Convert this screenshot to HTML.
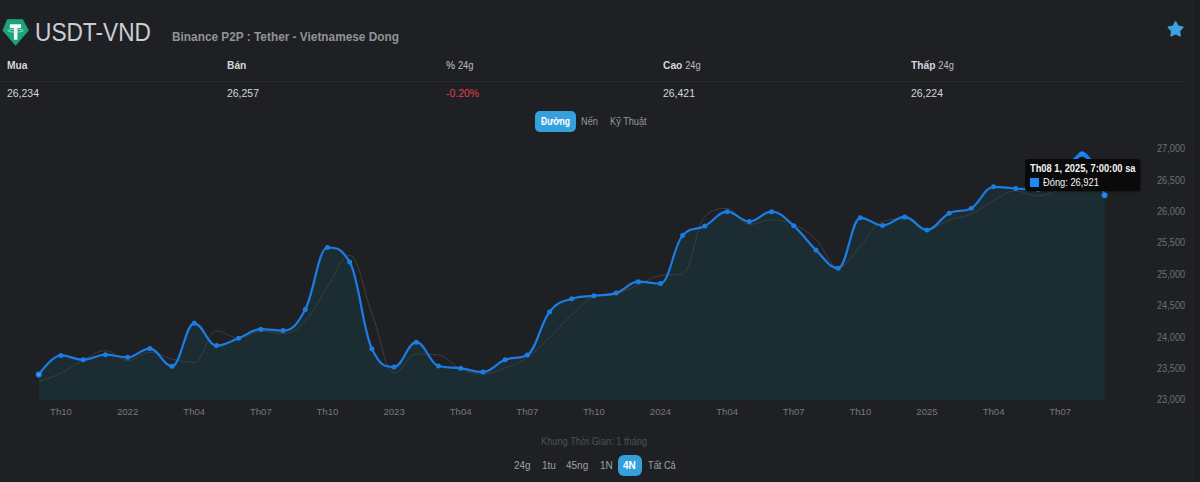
<!DOCTYPE html>
<html><head><meta charset="utf-8">
<style>
html,body{margin:0;padding:0;width:1200px;height:482px;overflow:hidden;background:#1f2024;}
body{position:relative;font-family:"Liberation Sans",sans-serif;}
.a{position:absolute;white-space:nowrap;line-height:1;}
#title{left:35px;top:20px;font-size:25px;color:#caced3;transform-origin:0 0;transform:scaleX(0.907);}
#sub{left:172px;top:30.5px;font-size:12.5px;font-weight:bold;color:#909398;transform-origin:0 0;transform:scaleX(0.947);}
.lab{font-size:11px;font-weight:bold;color:#d5d7dc;top:60px;transform-origin:0 0;transform:scaleX(0.93);}
.lab span{font-weight:normal;font-size:10px;color:#b8bbc1;}
.val{font-size:11px;color:#d5d7dc;top:88px;transform-origin:0 0;transform:scaleX(0.95);}
#sep{left:0;top:81px;width:1185px;height:1px;background:#27292d;}
.btn{font-size:10px;color:#94979d;top:117px;}
#bact{left:535px;top:111px;width:41px;height:21px;border-radius:5px;background:#36a0dc;}
.ax{font-size:9.6px;color:#75787d;}
.ay{font-size:10px;color:#6c6f75;margin-left:1px;transform-origin:0 0;transform:scaleX(0.92);}
#khung{left:541px;top:436.5px;font-size:10px;color:#4d5055;transform-origin:0 0;transform:scaleX(0.925);}
.tb{font-size:10.5px;color:#9ea1a7;top:460px;transform-origin:0 0;transform:scaleX(0.95);}
#tact{left:618px;top:455px;width:24px;height:21px;border-radius:6px;background:#36a0dc;}
#tip{left:1025px;top:158.8px;width:115px;height:32px;border-radius:3px;background:#0a0a0b;box-shadow:1px 1px 2px rgba(0,0,0,0.4);}
#rstrip{left:1194px;top:0;width:6px;height:482px;background:#1c1d20;}
</style></head><body>
<div id="rstrip" class="a"></div>
<svg class="a" style="left:0;top:0" width="32" height="50" viewBox="0 0 32 50">
<path d="M7.4,19.6 L22.6,19.6 L28.4,30.4 L15.6,45.3 L2.9,30.4 Z" fill="#1ba37a" stroke="#1ba37a" stroke-width="0.8" stroke-linejoin="round"/>
<path d="M9.8,24.3 H21 V27.9 H17.5 V39.8 H13.9 V27.9 H9.8 Z" fill="#f2f7f5"/>
<ellipse cx="15.6" cy="30.6" rx="7.6" ry="1.5" fill="none" stroke="#bfe6d6" stroke-width="0.8"/>
</svg>
<div id="title" class="a">USDT-VND</div>
<div id="sub" class="a">Binance P2P : Tether - Vietnamese Dong</div>
<svg class="a" style="left:1166px;top:19px" width="19" height="19" viewBox="0 0 19 19">
<path d="M9.60,3.00 L11.95,7.36 L16.83,8.25 L13.40,11.84 L14.07,16.75 L9.60,14.60 L5.13,16.75 L5.80,11.84 L2.37,8.25 L7.25,7.36 Z" fill="#3ca2e0" stroke="#3ca2e0" stroke-width="1.6" stroke-linejoin="round"/>
</svg>
<div id="sep" class="a"></div>
<div class="a lab" style="left:7px">Mua</div>
<div class="a lab" style="left:227px">Bán</div>
<div class="a lab" style="left:446px;font-weight:normal;color:#c9ccd1">% <span>24g</span></div>
<div class="a lab" style="left:663px">Cao <span>24g</span></div>
<div class="a lab" style="left:911px">Thấp <span>24g</span></div>
<div class="a val" style="left:7px">26,234</div>
<div class="a val" style="left:227px">26,257</div>
<div class="a val" style="left:446px;color:#e33d4d">-0.20%</div>
<div class="a val" style="left:663px">26,421</div>
<div class="a val" style="left:911px">26,224</div>
<div id="bact" class="a"></div>
<div class="a btn" style="left:541px;color:#fff;font-weight:bold;transform-origin:0 0;transform:scaleX(0.86)">Đường</div>
<div class="a btn" style="left:581px;transform-origin:0 0;transform:scaleX(0.92)">Nến</div>
<div class="a btn" style="left:610px;transform-origin:0 0;transform:scaleX(0.92)">Kỹ Thuật</div>

<svg class="a" style="left:0;top:0" width="1200" height="482" viewBox="0 0 1200 482">
<path d="M38.80,374.60 C38.80,374.60 52.12,355.40 61.00,355.40 C69.89,355.40 74.33,359.80 83.21,359.80 C92.09,359.80 96.53,354.70 105.41,354.70 C114.29,354.70 118.73,357.30 127.62,357.30 C136.50,357.30 140.94,348.60 149.82,348.60 C158.70,348.60 163.14,366.20 172.02,366.20 C180.91,366.20 185.35,323.30 194.23,323.30 C203.11,323.30 207.55,345.60 216.43,345.60 C225.31,345.60 229.76,341.48 238.64,338.20 C247.52,334.92 251.96,329.20 260.84,329.20 C269.72,329.20 274.16,330.60 283.05,330.60 C291.93,330.60 296.37,326.02 305.25,309.40 C314.13,292.78 318.57,247.50 327.45,247.50 C336.34,247.50 340.78,247.50 349.66,261.90 C358.54,276.30 362.98,330.50 371.86,348.70 C380.74,366.90 385.19,366.90 394.07,366.90 C402.95,366.90 407.39,342.20 416.27,342.20 C425.15,342.20 429.59,363.80 438.47,366.00 C447.36,368.20 451.80,367.00 460.68,368.20 C469.56,369.40 474.00,372.00 482.88,372.00 C491.76,372.00 496.21,363.20 505.09,359.80 C513.97,356.40 518.41,359.80 527.29,355.00 C536.17,350.20 540.61,323.24 549.50,312.00 C558.38,300.76 562.82,301.80 571.70,298.80 C580.58,295.80 585.02,296.94 593.90,295.80 C602.79,294.66 607.23,295.80 616.11,293.10 C624.99,290.40 629.43,281.70 638.31,281.70 C647.19,281.70 651.63,283.50 660.52,283.50 C669.40,283.50 673.84,244.40 682.72,235.20 C691.60,226.00 696.04,230.70 704.92,226.00 C713.81,221.30 718.25,211.70 727.13,211.70 C736.01,211.70 740.45,221.50 749.33,221.50 C758.21,221.50 762.66,211.70 771.54,211.70 C780.42,211.70 784.86,218.14 793.74,225.80 C802.62,233.46 807.06,241.50 815.95,250.00 C824.83,258.50 829.27,268.30 838.15,268.30 C847.03,268.30 851.47,217.80 860.35,217.80 C869.24,217.80 873.68,225.40 882.56,225.40 C891.44,225.40 895.88,216.90 904.76,216.90 C913.64,216.90 918.08,229.90 926.97,229.90 C935.85,229.90 940.29,217.54 949.17,213.20 C958.05,208.86 962.49,213.20 971.37,208.20 C980.26,203.20 984.70,186.80 993.58,186.80 C1002.46,186.80 1006.90,187.96 1015.78,188.50 C1024.66,189.04 1029.11,189.50 1037.99,189.50 C1046.87,189.50 1051.31,189.50 1060.19,186.00 C1069.07,182.50 1073.51,152.50 1082.40,152.50 C1091.28,152.50 1104.60,195.20 1104.60,195.20 L1104.60,400 L38.80,400 Z" fill="#1b2d32"/>
<path d="M38.80,381.50 C38.80,381.50 52.12,377.50 61.00,373.20 C69.89,368.90 74.33,364.50 83.21,360.00 C92.09,355.50 96.53,350.70 105.41,350.70 C114.29,350.70 118.73,360.50 127.62,360.50 C136.50,360.50 140.94,352.40 149.82,352.40 C158.70,352.40 163.14,357.02 172.02,359.00 C180.91,360.98 185.35,362.30 194.23,362.30 C203.11,362.30 207.55,331.00 216.43,331.00 C225.31,331.00 229.76,338.00 238.64,338.00 C247.52,338.00 251.96,331.30 260.84,331.30 C269.72,331.30 274.16,333.60 283.05,333.60 C291.93,333.60 296.37,330.32 305.25,321.00 C314.13,311.68 318.57,300.10 327.45,287.00 C336.34,273.90 340.78,255.50 349.66,255.50 C358.54,255.50 362.98,289.50 371.86,313.00 C380.74,336.50 385.19,373.00 394.07,373.00 C402.95,373.00 407.39,354.00 416.27,354.00 C425.15,354.00 429.59,354.00 438.47,355.00 C447.36,356.00 451.80,365.20 460.68,369.00 C469.56,372.80 474.00,374.00 482.88,374.00 C491.76,374.00 496.21,371.30 505.09,368.00 C513.97,364.70 518.41,363.58 527.29,357.50 C536.17,351.42 540.61,346.10 549.50,337.60 C558.38,329.10 562.82,323.12 571.70,315.00 C580.58,306.88 585.02,300.00 593.90,297.00 C602.79,294.00 607.23,296.40 616.11,294.00 C624.99,291.60 629.43,288.70 638.31,285.00 C647.19,281.30 651.63,277.20 660.52,275.50 C669.40,273.80 673.84,275.50 682.72,273.80 C691.60,272.10 696.04,224.50 704.92,216.50 C713.81,208.50 718.25,208.50 727.13,208.50 C736.01,208.50 740.45,224.50 749.33,224.50 C758.21,224.50 762.66,220.00 771.54,220.00 C780.42,220.00 784.86,220.60 793.74,224.50 C802.62,228.40 807.06,230.90 815.95,239.50 C824.83,248.10 829.27,267.50 838.15,267.50 C847.03,267.50 851.47,255.20 860.35,246.00 C869.24,236.80 873.68,224.00 882.56,221.50 C891.44,219.00 895.88,219.00 904.76,219.00 C913.64,219.00 918.08,229.50 926.97,229.50 C935.85,229.50 940.29,223.10 949.17,220.00 C958.05,216.90 962.49,217.90 971.37,214.00 C980.26,210.10 984.70,205.10 993.58,200.50 C1002.46,195.90 1006.90,191.00 1015.78,191.00 C1024.66,191.00 1029.11,196.00 1037.99,196.00 C1046.87,196.00 1051.31,192.00 1060.19,190.00 C1069.07,188.00 1073.51,186.00 1082.40,186.00 C1091.28,186.00 1104.60,186.00 1104.60,186.00" fill="none" stroke="#3b3e42" stroke-width="1"/>
<path d="M38.80,374.60 C38.80,374.60 52.12,355.40 61.00,355.40 C69.89,355.40 74.33,359.80 83.21,359.80 C92.09,359.80 96.53,354.70 105.41,354.70 C114.29,354.70 118.73,357.30 127.62,357.30 C136.50,357.30 140.94,348.60 149.82,348.60 C158.70,348.60 163.14,366.20 172.02,366.20 C180.91,366.20 185.35,323.30 194.23,323.30 C203.11,323.30 207.55,345.60 216.43,345.60 C225.31,345.60 229.76,341.48 238.64,338.20 C247.52,334.92 251.96,329.20 260.84,329.20 C269.72,329.20 274.16,330.60 283.05,330.60 C291.93,330.60 296.37,326.02 305.25,309.40 C314.13,292.78 318.57,247.50 327.45,247.50 C336.34,247.50 340.78,247.50 349.66,261.90 C358.54,276.30 362.98,330.50 371.86,348.70 C380.74,366.90 385.19,366.90 394.07,366.90 C402.95,366.90 407.39,342.20 416.27,342.20 C425.15,342.20 429.59,363.80 438.47,366.00 C447.36,368.20 451.80,367.00 460.68,368.20 C469.56,369.40 474.00,372.00 482.88,372.00 C491.76,372.00 496.21,363.20 505.09,359.80 C513.97,356.40 518.41,359.80 527.29,355.00 C536.17,350.20 540.61,323.24 549.50,312.00 C558.38,300.76 562.82,301.80 571.70,298.80 C580.58,295.80 585.02,296.94 593.90,295.80 C602.79,294.66 607.23,295.80 616.11,293.10 C624.99,290.40 629.43,281.70 638.31,281.70 C647.19,281.70 651.63,283.50 660.52,283.50 C669.40,283.50 673.84,244.40 682.72,235.20 C691.60,226.00 696.04,230.70 704.92,226.00 C713.81,221.30 718.25,211.70 727.13,211.70 C736.01,211.70 740.45,221.50 749.33,221.50 C758.21,221.50 762.66,211.70 771.54,211.70 C780.42,211.70 784.86,218.14 793.74,225.80 C802.62,233.46 807.06,241.50 815.95,250.00 C824.83,258.50 829.27,268.30 838.15,268.30 C847.03,268.30 851.47,217.80 860.35,217.80 C869.24,217.80 873.68,225.40 882.56,225.40 C891.44,225.40 895.88,216.90 904.76,216.90 C913.64,216.90 918.08,229.90 926.97,229.90 C935.85,229.90 940.29,217.54 949.17,213.20 C958.05,208.86 962.49,213.20 971.37,208.20 C980.26,203.20 984.70,186.80 993.58,186.80 C1002.46,186.80 1006.90,187.96 1015.78,188.50 C1024.66,189.04 1029.11,189.50 1037.99,189.50 C1046.87,189.50 1051.31,189.50 1060.19,186.00 C1069.07,182.50 1073.51,152.50 1082.40,152.50 C1091.28,152.50 1104.60,195.20 1104.60,195.20" fill="none" stroke="#1b7de4" stroke-width="2.2" stroke-linejoin="round"/>
<g fill="#1b7de4"><circle cx="61.00" cy="355.40" r="2.5"/><circle cx="83.21" cy="359.80" r="2.5"/><circle cx="105.41" cy="354.70" r="2.5"/><circle cx="127.62" cy="357.30" r="2.5"/><circle cx="149.82" cy="348.60" r="2.5"/><circle cx="172.02" cy="366.20" r="2.5"/><circle cx="194.23" cy="323.30" r="2.5"/><circle cx="216.43" cy="345.60" r="2.5"/><circle cx="238.64" cy="338.20" r="2.5"/><circle cx="260.84" cy="329.20" r="2.5"/><circle cx="283.05" cy="330.60" r="2.5"/><circle cx="305.25" cy="309.40" r="2.5"/><circle cx="327.45" cy="247.50" r="2.5"/><circle cx="349.66" cy="261.90" r="2.5"/><circle cx="371.86" cy="348.70" r="2.5"/><circle cx="394.07" cy="366.90" r="2.5"/><circle cx="416.27" cy="342.20" r="2.5"/><circle cx="438.47" cy="366.00" r="2.5"/><circle cx="460.68" cy="368.20" r="2.5"/><circle cx="482.88" cy="372.00" r="2.5"/><circle cx="505.09" cy="359.80" r="2.5"/><circle cx="527.29" cy="355.00" r="2.5"/><circle cx="549.50" cy="312.00" r="2.5"/><circle cx="571.70" cy="298.80" r="2.5"/><circle cx="593.90" cy="295.80" r="2.5"/><circle cx="616.11" cy="293.10" r="2.5"/><circle cx="638.31" cy="281.70" r="2.5"/><circle cx="660.52" cy="283.50" r="2.5"/><circle cx="682.72" cy="235.20" r="2.5"/><circle cx="704.92" cy="226.00" r="2.5"/><circle cx="727.13" cy="211.70" r="2.5"/><circle cx="749.33" cy="221.50" r="2.5"/><circle cx="771.54" cy="211.70" r="2.5"/><circle cx="793.74" cy="225.80" r="2.5"/><circle cx="815.95" cy="250.00" r="2.5"/><circle cx="838.15" cy="268.30" r="2.5"/><circle cx="860.35" cy="217.80" r="2.5"/><circle cx="882.56" cy="225.40" r="2.5"/><circle cx="904.76" cy="216.90" r="2.5"/><circle cx="926.97" cy="229.90" r="2.5"/><circle cx="949.17" cy="213.20" r="2.5"/><circle cx="971.37" cy="208.20" r="2.5"/><circle cx="993.58" cy="186.80" r="2.5"/><circle cx="1015.78" cy="188.50" r="2.5"/><circle cx="1037.99" cy="189.50" r="2.5"/><circle cx="1060.19" cy="186.00" r="2.5"/><circle cx="38.80" cy="374.60" r="2.4" fill="#3e97f2" stroke="#1c80e8" stroke-width="1.3"/><circle cx="1104.60" cy="195.20" r="2.4" fill="#2a88ee" stroke="#1c80e8" stroke-width="1.3"/></g>
<path d="M1075,159.5 L1082,156 L1089,159.5 Z" fill="#101116"/>
<path d="M1073.8,159.5 L1082,154.2 L1090.2,159.5" fill="none" stroke="#1b7de4" stroke-width="3" stroke-linejoin="round"/>
<circle cx="1082" cy="154" r="2.6" fill="#1f85f0"/>
</svg>

<div class="a ax" style="left:31.00px;top:407px;width:60px;text-align:center">Th10</div>
<div class="a ax" style="left:97.62px;top:407px;width:60px;text-align:center">2022</div>
<div class="a ax" style="left:164.23px;top:407px;width:60px;text-align:center">Th04</div>
<div class="a ax" style="left:230.84px;top:407px;width:60px;text-align:center">Th07</div>
<div class="a ax" style="left:297.45px;top:407px;width:60px;text-align:center">Th10</div>
<div class="a ax" style="left:364.07px;top:407px;width:60px;text-align:center">2023</div>
<div class="a ax" style="left:430.68px;top:407px;width:60px;text-align:center">Th04</div>
<div class="a ax" style="left:497.29px;top:407px;width:60px;text-align:center">Th07</div>
<div class="a ax" style="left:563.90px;top:407px;width:60px;text-align:center">Th10</div>
<div class="a ax" style="left:630.52px;top:407px;width:60px;text-align:center">2024</div>
<div class="a ax" style="left:697.13px;top:407px;width:60px;text-align:center">Th04</div>
<div class="a ax" style="left:763.74px;top:407px;width:60px;text-align:center">Th07</div>
<div class="a ax" style="left:830.35px;top:407px;width:60px;text-align:center">Th10</div>
<div class="a ax" style="left:896.97px;top:407px;width:60px;text-align:center">2025</div>
<div class="a ax" style="left:963.58px;top:407px;width:60px;text-align:center">Th04</div>
<div class="a ax" style="left:1030.19px;top:407px;width:60px;text-align:center">Th07</div>

<div class="a ay" style="left:1156px;top:144.2px">27,000</div>
<div class="a ay" style="left:1156px;top:176.1px">26,500</div>
<div class="a ay" style="left:1156px;top:206.6px">26,000</div>
<div class="a ay" style="left:1156px;top:238.1px">25,500</div>
<div class="a ay" style="left:1156px;top:269.6px">25,000</div>
<div class="a ay" style="left:1156px;top:301.1px">24,500</div>
<div class="a ay" style="left:1156px;top:332.6px">24,000</div>
<div class="a ay" style="left:1156px;top:364.4px">23,500</div>
<div class="a ay" style="left:1156px;top:395.1px">23,000</div>

<div id="tip" class="a"></div>
<div class="a" style="left:1030px;top:163.5px;font-size:10px;font-weight:bold;color:#f4f4f4;transform-origin:0 0;transform:scaleX(0.93)">Th08 1, 2025, 7:00:00 sa</div>
<div class="a" style="left:1030px;top:178px;width:8.5px;height:8.5px;background:#1e88f5"></div>
<div class="a" style="left:1043px;top:177.5px;font-size:10px;color:#f4f4f4;transform-origin:0 0;transform:scaleX(0.93)">Đóng: 26,921</div>

<div id="khung" class="a">Khung Thời Gian: 1 tháng</div>
<div id="tact" class="a"></div>
<div class="a tb" style="left:514px">24g</div>
<div class="a tb" style="left:542px">1tu</div>
<div class="a tb" style="left:566px">45ng</div>
<div class="a tb" style="left:600px">1N</div>
<div class="a tb" style="left:623px;color:#fff;font-weight:bold">4N</div>
<div class="a tb" style="left:648px;transform-origin:0 0;transform:scaleX(0.88)">Tất Cả</div>
</body></html>
